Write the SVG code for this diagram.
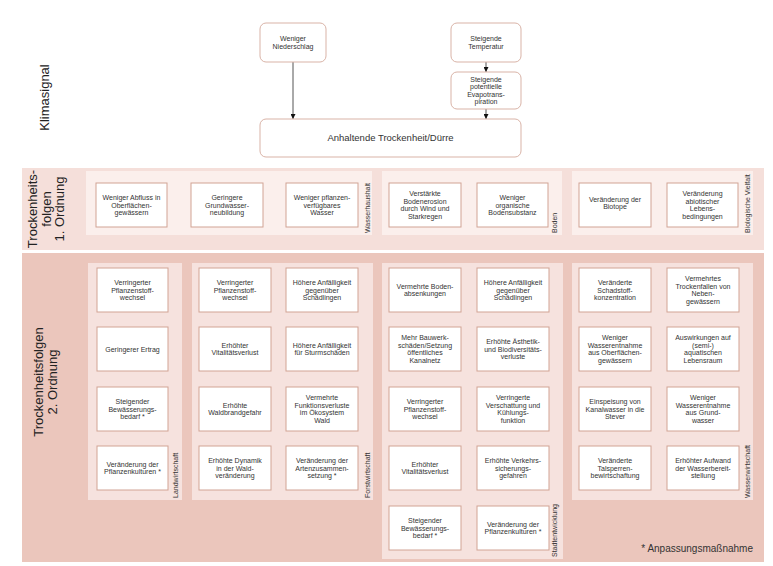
<svg xmlns="http://www.w3.org/2000/svg" width="773" height="566" viewBox="0 0 773 566">
<defs>
<marker id="ah" viewBox="0 0 6 6" refX="6" refY="3" markerWidth="5" markerHeight="5" orient="auto" markerUnits="userSpaceOnUse">
<path d="M0,0 L6,3 L0,6 z" fill="#111"/>
</marker>
<style>
text{font-family:"Liberation Sans",Arial,sans-serif;fill:#333;}
.t{font-size:7px;text-anchor:middle;}
.box{fill:#fff;stroke:#d1a394;stroke-width:1;}
.top{fill:#fff;stroke:#d9b3a7;stroke-width:1;}
.band1{fill:#f5dfda;}
.panel1{fill:#fbefec;}
.band2{fill:#ebc6bc;}
.panel2{fill:#f6e2de;}
.sec{font-size:7px;text-anchor:start;}
.row{font-size:13px;text-anchor:middle;fill:#222;}
.con{stroke:#555;stroke-width:1;fill:none;marker-end:url(#ah);}
</style>
</defs>
<rect width="773" height="566" fill="#fff"/>

<!-- Bands and panels -->
<rect class="band1" x="22" y="168" width="742" height="82"/>
<rect class="panel1" x="86" y="171" width="286" height="64"/>
<rect class="panel1" x="382" y="171" width="180" height="64"/>
<rect class="panel1" x="572" y="171" width="181" height="64"/>
<text class="sec" transform="translate(370,233) rotate(-90)">Wasserhaushalt</text>
<text class="sec" transform="translate(557,233) rotate(-90)">Boden</text>
<text class="sec" transform="translate(749.5,233) rotate(-90)">Biologische Vielfalt</text>

<rect class="band2" x="22" y="253" width="742" height="309"/>
<rect class="panel2" x="88" y="263" width="94" height="237"/>
<rect class="panel2" x="192" y="263" width="181" height="237"/>
<rect class="panel2" x="382" y="263" width="181" height="296"/>
<rect class="panel2" x="572" y="263" width="181" height="237"/>
<text class="sec" transform="translate(178,498) rotate(-90)">Landwirtschaft</text>
<text class="sec" transform="translate(369.5,498) rotate(-90)">Forstwirtschaft</text>
<text class="sec" transform="translate(557,557) rotate(-90)">Stadtentwicklung</text>
<text class="sec" transform="translate(749.5,498) rotate(-90)">Wasserwirtschaft</text>
<text x="753" y="552" style="font-size:10px;text-anchor:end;">* Anpassungsmaßnahme</text>

<!-- Row labels -->
<text class="row" transform="translate(49,97.5) rotate(-90)">Klimasignal</text>
<text class="row" transform="translate(37,209) rotate(-90)">Trockenheits-</text>
<text class="row" transform="translate(50.5,209) rotate(-90)">folgen</text>
<text class="row" transform="translate(64,209) rotate(-90)">1. Ordnung</text>
<text class="row" transform="translate(42.5,382) rotate(-90)">Trockenheitsfolgen</text>
<text class="row" transform="translate(57,382) rotate(-90)">2. Ordnung</text>

<!-- Connectors -->
<g id="connectors">
<line class="con" x1="293" y1="62" x2="293" y2="119"/>
<line class="con" x1="486" y1="62" x2="486" y2="72"/>
<line class="con" x1="486" y1="109" x2="486" y2="119"/>
</g>

<!-- Klimasignal nodes -->
<g id="n-niederschlag"><rect class="top" x="260" y="23" width="66" height="39" rx="6"/><text class="t" x="293" y="41.1"><tspan x="293">Weniger</tspan><tspan x="293" dy="7.8">Niederschlag</tspan></text></g>
<g id="n-temperatur"><rect class="top" x="451" y="23" width="70" height="39" rx="6"/><text class="t" x="486" y="41.1"><tspan x="486">Steigende</tspan><tspan x="486" dy="7.8">Temperatur</tspan></text></g>
<g id="n-evapo"><rect class="top" x="451" y="72" width="70" height="37" rx="6"/><text class="t" x="486" y="81.8"><tspan x="486">Steigende</tspan><tspan x="486" dy="7.5">potentielle</tspan><tspan x="486" dy="7.5">Evapotrans-</tspan><tspan x="486" dy="7.5">piration</tspan></text></g>
<g id="n-duerre"><rect class="top" x="260" y="119" width="261" height="38" rx="6"/><text x="390.5" y="141.4" style="font-size:9.5px;text-anchor:middle;">Anhaltende Trockenheit/Dürre</text></g>

<!-- 1. Ordnung -->
<g id="w1"><rect class="box" x="96" y="183" width="71" height="44"/><text class="t" y="199.7"><tspan x="131.5">Weniger Abfluss in</tspan><tspan x="131.5" dy="7.8">Oberflächen-</tspan><tspan x="131.5" dy="7.8">gewässern</tspan></text></g>
<g id="w2"><rect class="box" x="191" y="183" width="72" height="44"/><text class="t" y="199.7"><tspan x="227">Geringere</tspan><tspan x="227" dy="7.8">Grundwasser-</tspan><tspan x="227" dy="7.8">neubildung</tspan></text></g>
<g id="w3"><rect class="box" x="286" y="183" width="72" height="44"/><text class="t" y="199.7"><tspan x="322">Weniger pflanzen-</tspan><tspan x="322" dy="7.8">verfügbares</tspan><tspan x="322" dy="7.8">Wasser</tspan></text></g>
<g id="b1"><rect class="box" x="389" y="183" width="72" height="44"/><text class="t" y="195.8"><tspan x="425">Verstärkte</tspan><tspan x="425" dy="7.8">Bodenerosion</tspan><tspan x="425" dy="7.8">durch Wind und</tspan><tspan x="425" dy="7.8">Starkregen</tspan></text></g>
<g id="b2"><rect class="box" x="477" y="183" width="71" height="44"/><text class="t" y="199.7"><tspan x="512.5">Weniger</tspan><tspan x="512.5" dy="7.8">organische</tspan><tspan x="512.5" dy="7.8">Bodensubstanz</tspan></text></g>
<g id="v1"><rect class="box" x="579" y="183" width="72" height="44"/><text class="t" y="201.6"><tspan x="615">Veränderung der</tspan><tspan x="615" dy="7.8">Biotope</tspan></text></g>
<g id="v2"><rect class="box" x="667" y="183" width="71" height="44"/><text class="t" y="195.8"><tspan x="702.5">Veränderung</tspan><tspan x="702.5" dy="7.8">abiotischer</tspan><tspan x="702.5" dy="7.8">Lebens-</tspan><tspan x="702.5" dy="7.8">bedingungen</tspan></text></g>

<!-- Landwirtschaft -->
<g id="l1"><rect class="box" x="97" y="268" width="71" height="44"/><text class="t" y="284.7"><tspan x="132.5">Verringerter</tspan><tspan x="132.5" dy="7.8">Pflanzenstoff-</tspan><tspan x="132.5" dy="7.8">wechsel</tspan></text></g>
<g id="l2"><rect class="box" x="97" y="327" width="71" height="44"/><text class="t" y="351.5"><tspan x="132.5">Geringerer Ertrag</tspan></text></g>
<g id="l3"><rect class="box" x="97" y="387" width="71" height="44"/><text class="t" y="403.7"><tspan x="132.5">Steigender</tspan><tspan x="132.5" dy="7.8">Bewässerungs-</tspan><tspan x="132.5" dy="7.8">bedarf *</tspan></text></g>
<g id="l4"><rect class="box" x="97" y="446" width="71" height="44"/><text class="t" y="466.6"><tspan x="132.5">Veränderung der</tspan><tspan x="132.5" dy="7.8">Pflanzenkulturen *</tspan></text></g>

<!-- Forstwirtschaft -->
<g id="f1"><rect class="box" x="199" y="268" width="72" height="44"/><text class="t" y="284.7"><tspan x="235">Verringerter</tspan><tspan x="235" dy="7.8">Pflanzenstoff-</tspan><tspan x="235" dy="7.8">wechsel</tspan></text></g>
<g id="f2"><rect class="box" x="286" y="268" width="72" height="44"/><text class="t" y="284.7"><tspan x="322">Höhere Anfälligkeit</tspan><tspan x="322" dy="7.8">gegenüber</tspan><tspan x="322" dy="7.8">Schädlingen</tspan></text></g>
<g id="f3"><rect class="box" x="199" y="327" width="72" height="44"/><text class="t" y="347.6"><tspan x="235">Erhöhter</tspan><tspan x="235" dy="7.8">Vitalitätsverlust</tspan></text></g>
<g id="f4"><rect class="box" x="286" y="327" width="72" height="44"/><text class="t" y="347.6"><tspan x="322">Höhere Anfälligkeit</tspan><tspan x="322" dy="7.8">für Sturmschäden</tspan></text></g>
<g id="f5"><rect class="box" x="199" y="387" width="72" height="44"/><text class="t" y="407.6"><tspan x="235">Erhöhte</tspan><tspan x="235" dy="7.8">Waldbrandgefahr</tspan></text></g>
<g id="f6"><rect class="box" x="286" y="387" width="72" height="44"/><text class="t" y="399.8"><tspan x="322">Vermehrte</tspan><tspan x="322" dy="7.8">Funktionsverluste</tspan><tspan x="322" dy="7.8">im Ökosystem</tspan><tspan x="322" dy="7.8">Wald</tspan></text></g>
<g id="f7"><rect class="box" x="199" y="446" width="72" height="44"/><text class="t" y="462.7"><tspan x="235">Erhöhte Dynamik</tspan><tspan x="235" dy="7.8">in der Wald-</tspan><tspan x="235" dy="7.8">veränderung</tspan></text></g>
<g id="f8"><rect class="box" x="286" y="446" width="72" height="44"/><text class="t" y="462.7"><tspan x="322">Veränderung der</tspan><tspan x="322" dy="7.8">Artenzusammen-</tspan><tspan x="322" dy="7.8">setzung *</tspan></text></g>

<!-- Stadtentwicklung -->
<g id="s1"><rect class="box" x="389" y="268" width="72" height="44"/><text class="t" y="288.6"><tspan x="425">Vermehrte Boden-</tspan><tspan x="425" dy="7.8">absenkungen</tspan></text></g>
<g id="s2"><rect class="box" x="477" y="268" width="72" height="44"/><text class="t" y="284.7"><tspan x="513">Höhere Anfälligkeit</tspan><tspan x="513" dy="7.8">gegenüber</tspan><tspan x="513" dy="7.8">Schädlingen</tspan></text></g>
<g id="s3"><rect class="box" x="389" y="327" width="72" height="44"/><text class="t" y="339.8"><tspan x="425">Mehr Bauwerk-</tspan><tspan x="425" dy="7.8">schäden/Setzung</tspan><tspan x="425" dy="7.8">öffentliches</tspan><tspan x="425" dy="7.8">Kanalnetz</tspan></text></g>
<g id="s4"><rect class="box" x="477" y="327" width="72" height="44"/><text class="t" y="343.7"><tspan x="513">Erhöhte Ästhetik-</tspan><tspan x="513" dy="7.8">und Biodiversitäts-</tspan><tspan x="513" dy="7.8">verluste</tspan></text></g>
<g id="s5"><rect class="box" x="389" y="387" width="72" height="44"/><text class="t" y="403.7"><tspan x="425">Verringerter</tspan><tspan x="425" dy="7.8">Pflanzenstoff-</tspan><tspan x="425" dy="7.8">wechsel</tspan></text></g>
<g id="s6"><rect class="box" x="477" y="387" width="72" height="44"/><text class="t" y="399.8"><tspan x="513">Verringerte</tspan><tspan x="513" dy="7.8">Verschattung und</tspan><tspan x="513" dy="7.8">Kühlungs-</tspan><tspan x="513" dy="7.8">funktion</tspan></text></g>
<g id="s7"><rect class="box" x="389" y="446" width="72" height="44"/><text class="t" y="466.6"><tspan x="425">Erhöhter</tspan><tspan x="425" dy="7.8">Vitalitätsverlust</tspan></text></g>
<g id="s8"><rect class="box" x="477" y="446" width="72" height="44"/><text class="t" y="462.7"><tspan x="513">Erhöhte Verkehrs-</tspan><tspan x="513" dy="7.8">sicherungs-</tspan><tspan x="513" dy="7.8">gefahren</tspan></text></g>
<g id="s9"><rect class="box" x="389" y="506" width="72" height="44"/><text class="t" y="522.7"><tspan x="425">Steigender</tspan><tspan x="425" dy="7.8">Bewässerungs-</tspan><tspan x="425" dy="7.8">bedarf *</tspan></text></g>
<g id="s10"><rect class="box" x="477" y="506" width="72" height="44"/><text class="t" y="526.6"><tspan x="513">Veränderung der</tspan><tspan x="513" dy="7.8">Pflanzenkulturen *</tspan></text></g>

<!-- Wasserwirtschaft -->
<g id="ww1"><rect class="box" x="579" y="268" width="72" height="44"/><text class="t" y="284.7"><tspan x="615">Veränderte</tspan><tspan x="615" dy="7.8">Schadstoff-</tspan><tspan x="615" dy="7.8">konzentration</tspan></text></g>
<g id="ww2"><rect class="box" x="667" y="268" width="72" height="44"/><text class="t" y="280.8"><tspan x="703">Vermehrtes</tspan><tspan x="703" dy="7.8">Trockenfallen von</tspan><tspan x="703" dy="7.8">Neben-</tspan><tspan x="703" dy="7.8">gewässern</tspan></text></g>
<g id="ww3"><rect class="box" x="579" y="327" width="72" height="44"/><text class="t" y="339.8"><tspan x="615">Weniger</tspan><tspan x="615" dy="7.8">Wasserentnahme</tspan><tspan x="615" dy="7.8">aus Oberflächen-</tspan><tspan x="615" dy="7.8">gewässern</tspan></text></g>
<g id="ww4"><rect class="box" x="667" y="327" width="72" height="44"/><text class="t" y="339.8"><tspan x="703">Auswirkungen auf</tspan><tspan x="703" dy="7.8">(semi-)</tspan><tspan x="703" dy="7.8">aquatischen</tspan><tspan x="703" dy="7.8">Lebensraum</tspan></text></g>
<g id="ww5"><rect class="box" x="579" y="387" width="72" height="44"/><text class="t" y="403.7"><tspan x="615">Einspeisung von</tspan><tspan x="615" dy="7.8">Kanalwasser in die</tspan><tspan x="615" dy="7.8">Stever</tspan></text></g>
<g id="ww6"><rect class="box" x="667" y="387" width="72" height="44"/><text class="t" y="399.8"><tspan x="703">Weniger</tspan><tspan x="703" dy="7.8">Wasserentnahme</tspan><tspan x="703" dy="7.8">aus Grund-</tspan><tspan x="703" dy="7.8">wasser</tspan></text></g>
<g id="ww7"><rect class="box" x="579" y="446" width="72" height="44"/><text class="t" y="462.7"><tspan x="615">Veränderte</tspan><tspan x="615" dy="7.8">Talsperren-</tspan><tspan x="615" dy="7.8">bewirtschaftung</tspan></text></g>
<g id="ww8"><rect class="box" x="667" y="446" width="72" height="44"/><text class="t" y="462.7"><tspan x="703">Erhöhter Aufwand</tspan><tspan x="703" dy="7.8">der Wasserbereit-</tspan><tspan x="703" dy="7.8">stellung</tspan></text></g>
</svg>
